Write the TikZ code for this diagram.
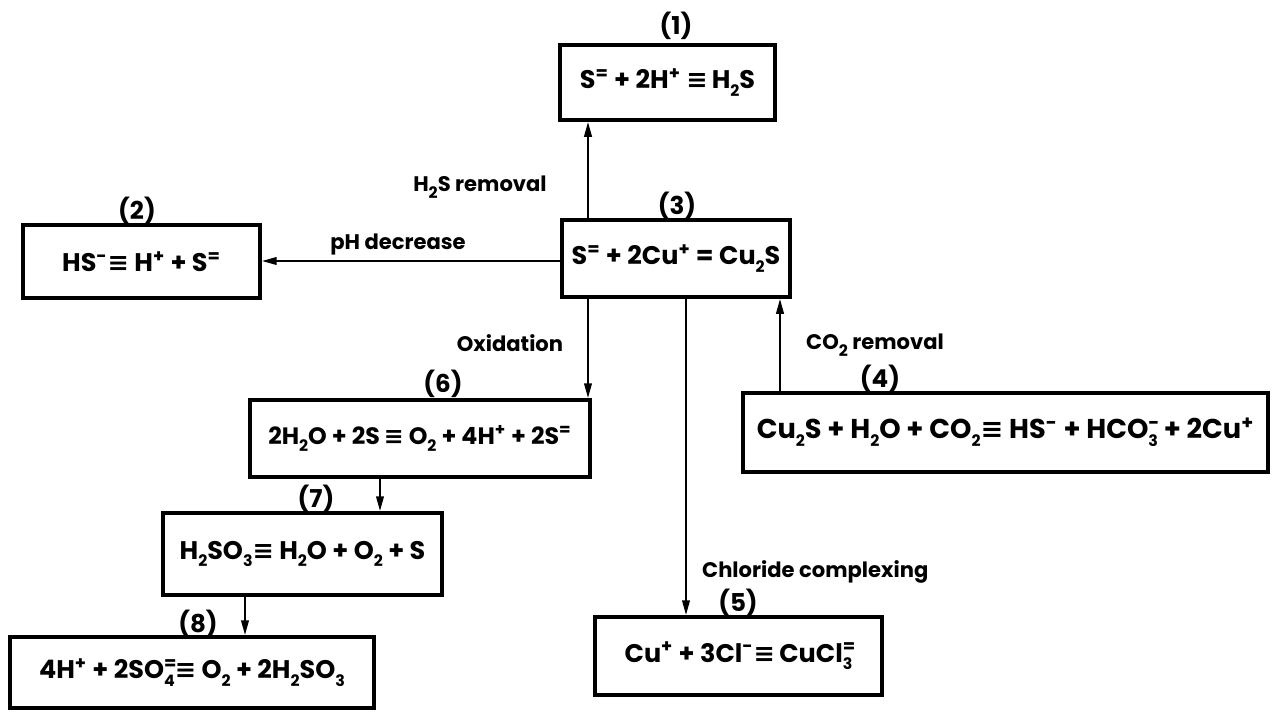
\documentclass[tikz,border=0pt]{standalone}
\usepackage{fontspec}
\setmainfont{Poppins}
\newfontfamily\symfont{DejaVu Sans}
\usetikzlibrary{arrows.meta, positioning, calc}

% charges, indices and the equilibrium sign
\newcommand{\chup}[1]{\textsuperscript{#1}}
\newcommand{\chdn}[1]{\raisebox{-0.55ex}{\small #1}}
\newcommand{\chud}[2]{\rlap{\chup{#1}}\chdn{#2}}
\newcommand{\eqlb}{{\symfont\bfseries ≡}}

\begin{document}
\begin{tikzpicture}[x=0.02cm, y=-0.02cm,
  eqbox/.style={draw, line width=2pt, inner sep=0pt,
    font=\fontsize{14.5}{17}\selectfont\bfseries},
  num/.style={font=\fontsize{14}{16}\selectfont\bfseries},
  arr/.style={-{Triangle[length=0.3cm, width=0.15cm]}, line width=1.3pt},
  note/.style={font=\fontsize{12}{14}\selectfont\bfseries}
]
  \useasboundingbox (0,0) rectangle (1276,714);

  % equilibria
  \node[eqbox, minimum width=4.30cm, minimum height=1.50cm] (eq1) at (667.5, 82.5)
    {S\chup{=} + 2H\chup{+} \eqlb\,H\chdn{2}S};
  \node[eqbox, minimum width=4.74cm, minimum height=1.46cm] (eq2) at (141.5, 261.5)
    {HS\chup{-}\eqlb{} H\chup{+} + S\chup{=}};
  \node[eqbox, minimum width=4.56cm, minimum height=1.54cm] (eq3) at (676, 258.5)
    {S\chup{=} + 2Cu\chup{+} = Cu\chdn{2}S};
  \node[eqbox, minimum width=10.50cm, minimum height=1.58cm] (eq4) at (1005.5, 432.5)
    {\fontsize{15.5}{17}\selectfont
     Cu\chdn{2}S + H\chdn{2}O + CO\chdn{2}\eqlb{} HS\chup{-} + HCO\chud{-}{3} + 2Cu\chup{+}};
  \node[eqbox, minimum width=5.74cm, minimum height=1.56cm] (eq5) at (738.5, 656)
    {Cu\chup{+} + 3Cl\chup{-}\eqlb\,CuCl\chud{=}{3}};
  \node[eqbox, minimum width=6.80cm, minimum height=1.54cm] (eq6) at (420, 438.5)
    {\fontsize{13.5}{16}\selectfont
     2H\chdn{2}O + 2S\,\eqlb{} O\chdn{2} + 4H\chup{+} + 2S\chup{=}};
  \node[eqbox, minimum width=5.58cm, minimum height=1.64cm] (eq7) at (302.5, 554)
    {H\chdn{2}SO\chdn{3}\eqlb{} H\chdn{2}O + O\chdn{2} + S};
  \node[eqbox, minimum width=7.28cm, minimum height=1.42cm] (eq8) at (192, 672.5)
    {4H\chup{+} + 2SO\chud{=}{4}\eqlb{} O\chdn{2} + 2H\chdn{2}SO\chdn{3}};

  % numbers
  \node[num] (n1) at (676, 26)  {(1)};
  \node[num] (n2) at (137, 211) {(2)};
  \node[num] (n3) at (677, 206) {(3)};
  \node[num] (n4) at (880, 379) {(4)};
  \node[num] (n5) at (738, 603) {(5)};
  \node[num] (n6) at (443, 384) {(6)};
  \node[num] (n7) at (316, 499) {(7)};
  \node[num] (n8) at (198, 624) {(8)};

  % connectors
  \coordinate (vox) at (588, 0);
  \coordinate (vcl) at (686, 0);
  \coordinate (vco) at (780, 0);
  \coordinate (hph) at (0, 261);
  \coordinate (v67) at (380, 0);
  \coordinate (v78) at (245, 0);

  \draw[arr] (eq3.north -| vox) -- (eq1.south -| vox);
  \draw[arr] (eq3.west |- hph)  -- (eq2.east |- hph);
  \draw[arr] (eq3.south -| vox) -- (eq6.north -| vox);
  \draw[arr] (eq4.north -| vco) -- (eq3.south -| vco);
  \draw[arr] (eq3.south -| vcl) -- (eq5.north -| vcl);
  \draw[arr] (eq6.south -| v67) -- (eq7.north -| v67);
  \draw[arr] (eq7.south -| v78) -- (eq8.north -| v78);

  \node[note] (lh2s) at (480, 187) {H\chdn{2}S removal};
  \node[note] (lph)  at (398, 244) {pH decrease};
  \node[note] (lox)  at (510, 343) {Oxidation};
  \node[note] (lco2) at (875, 345) {CO\chdn{2} removal};
  \node[note, anchor=west] (lcl) at (696, 572) {Chloride complexing};
\end{tikzpicture}
\end{document}
